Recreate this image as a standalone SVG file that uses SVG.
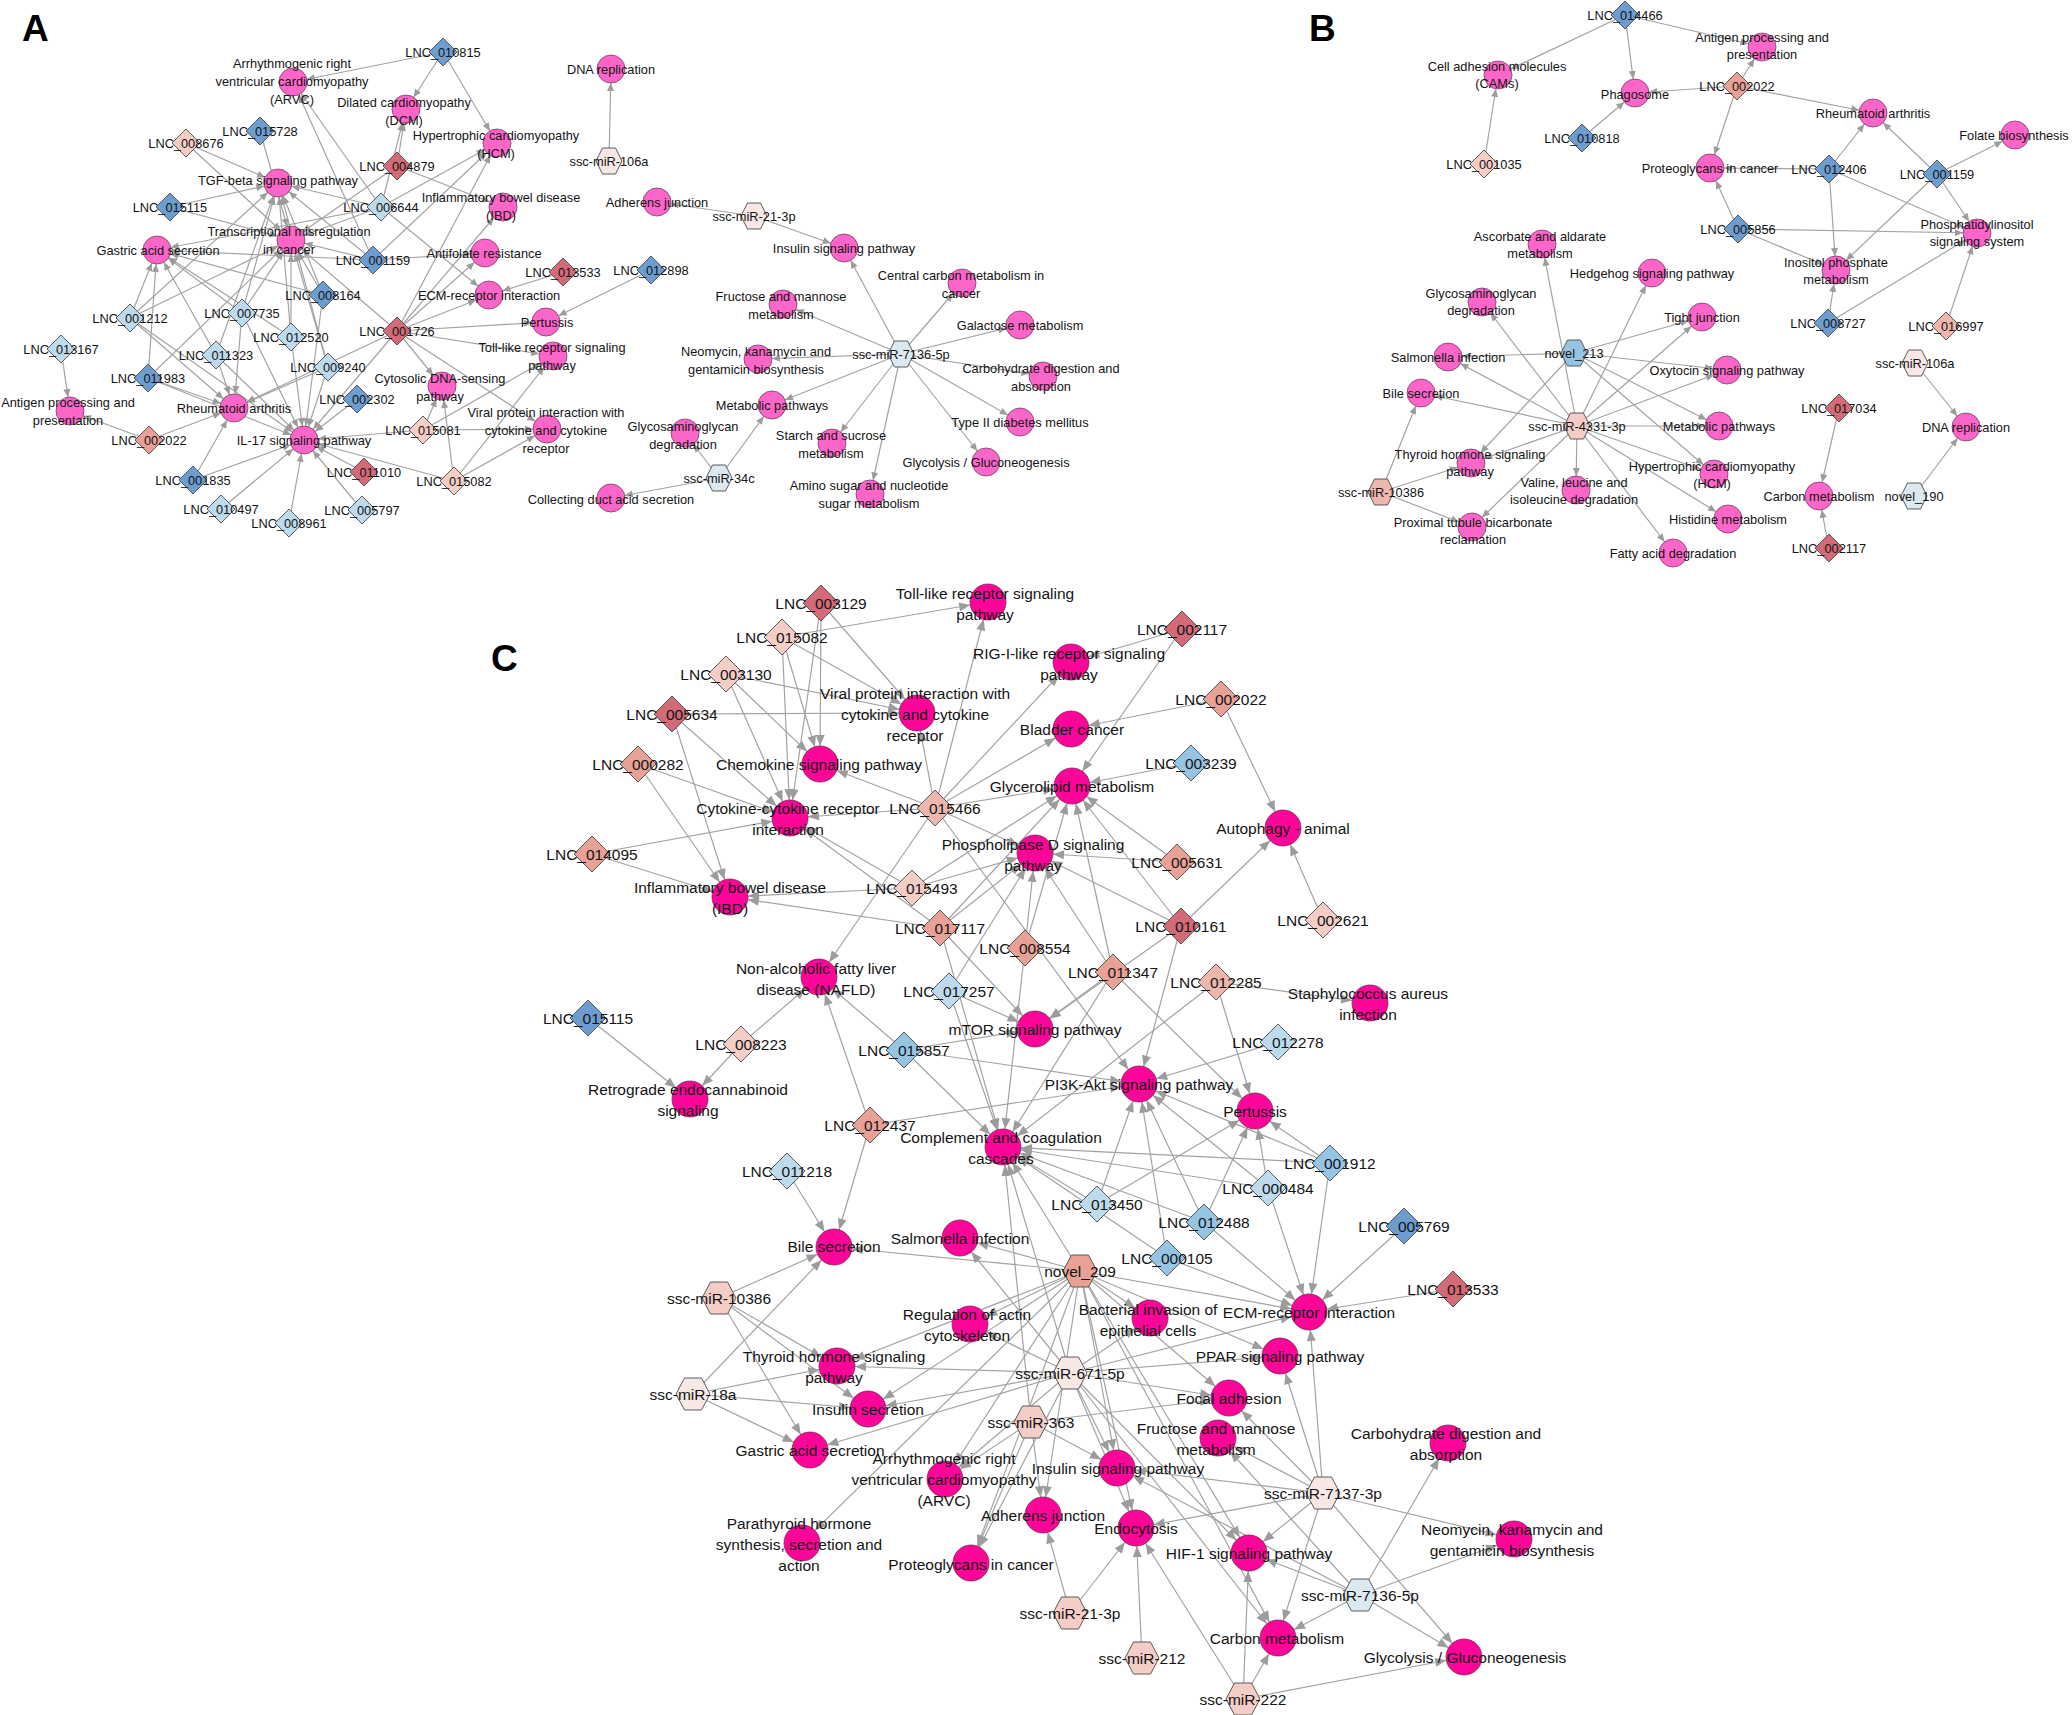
<svg xmlns="http://www.w3.org/2000/svg" xmlns:xlink="http://www.w3.org/1999/xlink" width="2072" height="1715" viewBox="0 0 2072 1715">
<style>
.e{stroke:#a3a3a3;stroke-width:1.2;fill:none}
.ea{marker-end:url(#ma)}
.ec{marker-end:url(#mc)}
.pa{fill:#fd66c9;stroke:#7a3c64;stroke-width:0.8}
.pc{fill:#fc0598;stroke:#7a2a58;stroke-width:0.8}
.s{stroke:#4a4a4a;stroke-width:0.9}
.dr{fill:#d26a78}
.sa{fill:#e8a196}
.sl{fill:#edb7ad}
.lp{fill:#f3cdc6}
.vp{fill:#f7e8e5}
.mb{fill:#6d9dcf}
.bl{fill:#96c5e4}
.lb{fill:#bedbed}
.hb{fill:#dce9f1}
.t{font-family:"Liberation Sans",Arial,sans-serif;font-size:12.8px;fill:#141414;text-anchor:middle;dominant-baseline:central}
.tc{font-size:15.5px}
.pl{font-family:"Liberation Sans",Arial,sans-serif;font-size:37px;font-weight:bold;fill:#000}
</style>
<defs>
<marker id="ma" markerUnits="userSpaceOnUse" markerWidth="10" markerHeight="8" refX="22" refY="3.5" orient="auto" overflow="visible"><path d="M0,0 L8,3.5 L0,7 z" fill="#9c9c9c"/></marker>
<marker id="mc" markerUnits="userSpaceOnUse" markerWidth="12" markerHeight="10" refX="29" refY="4.5" orient="auto" overflow="visible"><path d="M0,0 L11,4.5 L0,9 z" fill="#9c9c9c"/></marker>
<polygon id="dA" points="0,-14 14,0 0,14 -14,0"/>
<polygon id="dC" points="0,-18 18,0 0,18 -18,0"/>
<polygon id="hA" points="-13,0 -6.5,-13 6.5,-13 13,0 6.5,13 -6.5,13"/>
<polygon id="hC" points="-17,0 -8.5,-16 8.5,-16 17,0 8.5,16 -8.5,16"/>
</defs>
<rect width="2072" height="1715" fill="#fff"/>
<text class="pl" x="22" y="41">A</text>
<text class="pl" x="1309" y="41">B</text>
<text class="pl" x="491" y="671">C</text>

<g id="connectors">
<!-- Panel A -->
<g class="e ea">
<line x1="443" y1="52" x2="293" y2="82"/><line x1="443" y1="52" x2="406" y2="109"/><line x1="443" y1="52" x2="497" y2="143"/>
<line x1="186" y1="143" x2="278" y2="183"/><line x1="186" y1="143" x2="291" y2="240"/>
<line x1="260" y1="131" x2="291" y2="240"/>
<line x1="397" y1="166" x2="406" y2="109"/><line x1="397" y1="166" x2="291" y2="240"/><line x1="397" y1="166" x2="503" y2="207"/>
<line x1="170" y1="207" x2="278" y2="183"/><line x1="170" y1="207" x2="291" y2="240"/>
<line x1="381" y1="207" x2="293" y2="82"/><line x1="381" y1="207" x2="406" y2="109"/><line x1="381" y1="207" x2="497" y2="143"/><line x1="381" y1="207" x2="278" y2="183"/><line x1="381" y1="207" x2="157" y2="250"/><line x1="381" y1="207" x2="291" y2="240"/><line x1="381" y1="207" x2="489" y2="295"/>
<line x1="373" y1="260" x2="293" y2="82"/><line x1="373" y1="260" x2="497" y2="143"/><line x1="373" y1="260" x2="278" y2="183"/><line x1="373" y1="260" x2="157" y2="250"/><line x1="373" y1="260" x2="291" y2="240"/><line x1="373" y1="260" x2="485" y2="253"/>
<line x1="130" y1="318" x2="157" y2="250"/><line x1="130" y1="318" x2="278" y2="183"/><line x1="130" y1="318" x2="291" y2="240"/><line x1="130" y1="318" x2="234" y2="408"/><line x1="130" y1="318" x2="304" y2="440"/>
<line x1="242" y1="313" x2="157" y2="250"/><line x1="242" y1="313" x2="278" y2="183"/><line x1="242" y1="313" x2="291" y2="240"/><line x1="242" y1="313" x2="234" y2="408"/><line x1="242" y1="313" x2="304" y2="440"/>
<line x1="323" y1="295" x2="157" y2="250"/><line x1="323" y1="295" x2="278" y2="183"/><line x1="323" y1="295" x2="291" y2="240"/><line x1="323" y1="295" x2="304" y2="440"/>
<line x1="291" y1="337" x2="157" y2="250"/><line x1="291" y1="337" x2="278" y2="183"/><line x1="291" y1="337" x2="291" y2="240"/><line x1="291" y1="337" x2="304" y2="440"/>
<line x1="216" y1="355" x2="157" y2="250"/><line x1="216" y1="355" x2="278" y2="183"/><line x1="216" y1="355" x2="234" y2="408"/><line x1="216" y1="355" x2="304" y2="440"/>
<line x1="148" y1="378" x2="157" y2="250"/><line x1="148" y1="378" x2="291" y2="240"/><line x1="148" y1="378" x2="234" y2="408"/><line x1="148" y1="378" x2="304" y2="440"/>
<line x1="328" y1="367" x2="278" y2="183"/><line x1="328" y1="367" x2="291" y2="240"/><line x1="328" y1="367" x2="234" y2="408"/><line x1="328" y1="367" x2="304" y2="440"/>
<line x1="397" y1="331" x2="497" y2="143"/><line x1="397" y1="331" x2="503" y2="207"/><line x1="397" y1="331" x2="489" y2="295"/><line x1="397" y1="331" x2="546" y2="322"/><line x1="397" y1="331" x2="553" y2="356"/><line x1="397" y1="331" x2="442" y2="386"/><line x1="397" y1="331" x2="547" y2="429"/><line x1="397" y1="331" x2="304" y2="440"/><line x1="397" y1="331" x2="234" y2="408"/><line x1="397" y1="331" x2="291" y2="240"/><line x1="397" y1="331" x2="485" y2="253"/>
<line x1="563" y1="272" x2="489" y2="295"/>
<line x1="651" y1="270" x2="546" y2="322"/>
<line x1="61" y1="349" x2="70" y2="411"/>
<line x1="149" y1="440" x2="70" y2="411"/><line x1="149" y1="440" x2="234" y2="408"/>
<line x1="357" y1="399" x2="304" y2="440"/>
<line x1="423" y1="430" x2="304" y2="440"/><line x1="423" y1="430" x2="442" y2="386"/><line x1="423" y1="430" x2="553" y2="356"/><line x1="423" y1="430" x2="547" y2="429"/>
<line x1="454" y1="481" x2="304" y2="440"/><line x1="454" y1="481" x2="442" y2="386"/><line x1="454" y1="481" x2="553" y2="356"/><line x1="454" y1="481" x2="547" y2="429"/>
<line x1="193" y1="480" x2="234" y2="408"/><line x1="193" y1="480" x2="304" y2="440"/>
<line x1="364" y1="472" x2="304" y2="440"/>
<line x1="221" y1="509" x2="304" y2="440"/>
<line x1="289" y1="523" x2="304" y2="440"/>
<line x1="362" y1="510" x2="304" y2="440"/>
<line x1="609" y1="161" x2="611" y2="69"/>
<line x1="754" y1="216" x2="657" y2="202"/><line x1="754" y1="216" x2="844" y2="248"/>
<line x1="901" y1="354" x2="844" y2="248"/><line x1="901" y1="354" x2="962" y2="283"/><line x1="901" y1="354" x2="783" y2="304"/><line x1="901" y1="354" x2="1020" y2="325"/><line x1="901" y1="354" x2="758" y2="359"/><line x1="901" y1="354" x2="1043" y2="376"/><line x1="901" y1="354" x2="772" y2="405"/><line x1="901" y1="354" x2="832" y2="443"/><line x1="901" y1="354" x2="870" y2="494"/><line x1="901" y1="354" x2="986" y2="462"/><line x1="901" y1="354" x2="1020" y2="422"/>
<line x1="719" y1="478" x2="685" y2="433"/><line x1="719" y1="478" x2="772" y2="405"/><line x1="719" y1="478" x2="611" y2="498"/>
</g>
<!-- Panel B -->
<g class="e ea">
<line x1="1625" y1="15" x2="1498" y2="75"/><line x1="1625" y1="15" x2="1635" y2="93"/><line x1="1625" y1="15" x2="1762" y2="47"/>
<line x1="1737" y1="86" x2="1762" y2="47"/><line x1="1737" y1="86" x2="1635" y2="93"/><line x1="1737" y1="86" x2="1873" y2="113"/><line x1="1737" y1="86" x2="1710" y2="168"/>
<line x1="1582" y1="138" x2="1635" y2="93"/>
<line x1="1484" y1="164" x2="1498" y2="75"/>
<line x1="1829" y1="169" x2="1710" y2="168"/><line x1="1829" y1="169" x2="1873" y2="113"/><line x1="1829" y1="169" x2="1836" y2="270"/><line x1="1829" y1="169" x2="1977" y2="233"/>
<line x1="1937" y1="174" x2="1873" y2="113"/><line x1="1937" y1="174" x2="2015" y2="135"/><line x1="1937" y1="174" x2="1977" y2="233"/><line x1="1937" y1="174" x2="1836" y2="270"/>
<line x1="1738" y1="229" x2="1710" y2="168"/><line x1="1738" y1="229" x2="1977" y2="233"/><line x1="1738" y1="229" x2="1836" y2="270"/>
<line x1="1828" y1="323" x2="1836" y2="270"/><line x1="1828" y1="323" x2="1977" y2="233"/>
<line x1="1946" y1="326" x2="1977" y2="233"/>
<line x1="1915" y1="363" x2="1966" y2="427"/>
<line x1="1914" y1="496" x2="1966" y2="427"/>
<line x1="1839" y1="408" x2="1819" y2="496"/>
<line x1="1829" y1="548" x2="1819" y2="496"/>
<line x1="1577" y1="426" x2="1542" y2="244"/><line x1="1577" y1="426" x2="1652" y2="273"/><line x1="1577" y1="426" x2="1482" y2="302"/><line x1="1577" y1="426" x2="1702" y2="317"/><line x1="1577" y1="426" x2="1448" y2="357"/><line x1="1577" y1="426" x2="1727" y2="370"/><line x1="1577" y1="426" x2="1421" y2="393"/><line x1="1577" y1="426" x2="1719" y2="426"/><line x1="1577" y1="426" x2="1471" y2="463"/><line x1="1577" y1="426" x2="1714" y2="474"/><line x1="1577" y1="426" x2="1576" y2="490"/><line x1="1577" y1="426" x2="1728" y2="519"/><line x1="1577" y1="426" x2="1673" y2="553"/><line x1="1577" y1="426" x2="1472" y2="527"/>
<line x1="1574" y1="353" x2="1702" y2="317"/><line x1="1574" y1="353" x2="1448" y2="357"/><line x1="1574" y1="353" x2="1727" y2="370"/><line x1="1574" y1="353" x2="1719" y2="426"/><line x1="1574" y1="353" x2="1714" y2="474"/><line x1="1574" y1="353" x2="1471" y2="463"/>
<line x1="1381" y1="492" x2="1421" y2="393"/><line x1="1381" y1="492" x2="1471" y2="463"/><line x1="1381" y1="492" x2="1472" y2="527"/>
</g>
<!-- Panel C -->
<g class="e ec">
<line x1="821" y1="603" x2="820" y2="764"/><line x1="821" y1="603" x2="790" y2="818"/><line x1="821" y1="603" x2="917" y2="713"/>
<line x1="782" y1="637" x2="988" y2="602"/><line x1="782" y1="637" x2="820" y2="764"/><line x1="782" y1="637" x2="790" y2="818"/><line x1="782" y1="637" x2="917" y2="713"/>
<line x1="726" y1="674" x2="917" y2="713"/><line x1="726" y1="674" x2="820" y2="764"/><line x1="726" y1="674" x2="790" y2="818"/>
<line x1="672" y1="714" x2="917" y2="713"/><line x1="672" y1="714" x2="790" y2="818"/><line x1="672" y1="714" x2="730" y2="897"/>
<line x1="638" y1="764" x2="790" y2="818"/><line x1="638" y1="764" x2="730" y2="897"/>
<line x1="592" y1="854" x2="790" y2="818"/><line x1="592" y1="854" x2="730" y2="897"/>
<line x1="935" y1="808" x2="917" y2="713"/><line x1="935" y1="808" x2="988" y2="602"/><line x1="935" y1="808" x2="1071" y2="662"/><line x1="935" y1="808" x2="1071" y2="729"/><line x1="935" y1="808" x2="1072" y2="786"/><line x1="935" y1="808" x2="820" y2="764"/><line x1="935" y1="808" x2="790" y2="818"/><line x1="935" y1="808" x2="1035" y2="853"/><line x1="935" y1="808" x2="819" y2="977"/><line x1="935" y1="808" x2="1139" y2="1084"/>
<line x1="912" y1="888" x2="790" y2="818"/><line x1="912" y1="888" x2="730" y2="897"/><line x1="912" y1="888" x2="1035" y2="853"/><line x1="912" y1="888" x2="1072" y2="786"/>
<line x1="940" y1="928" x2="790" y2="818"/><line x1="940" y1="928" x2="730" y2="897"/><line x1="940" y1="928" x2="1035" y2="853"/><line x1="940" y1="928" x2="1072" y2="786"/><line x1="940" y1="928" x2="1035" y2="1029"/><line x1="940" y1="928" x2="1003" y2="1147"/>
<line x1="1025" y1="948" x2="1035" y2="853"/><line x1="1025" y1="948" x2="1072" y2="786"/><line x1="1025" y1="948" x2="1003" y2="1147"/>
<line x1="1182" y1="629" x2="1071" y2="662"/><line x1="1182" y1="629" x2="1072" y2="786"/>
<line x1="1221" y1="699" x2="1071" y2="729"/><line x1="1221" y1="699" x2="1283" y2="828"/>
<line x1="1191" y1="763" x2="1072" y2="786"/>
<line x1="1177" y1="862" x2="1072" y2="786"/><line x1="1177" y1="862" x2="1035" y2="853"/>
<line x1="1181" y1="926" x2="1072" y2="786"/><line x1="1181" y1="926" x2="1035" y2="853"/><line x1="1181" y1="926" x2="1283" y2="828"/><line x1="1181" y1="926" x2="1035" y2="1029"/><line x1="1181" y1="926" x2="1139" y2="1084"/>
<line x1="1323" y1="920" x2="1283" y2="828"/>
<line x1="1113" y1="972" x2="1072" y2="786"/><line x1="1113" y1="972" x2="1035" y2="853"/><line x1="1113" y1="972" x2="1035" y2="1029"/><line x1="1113" y1="972" x2="1255" y2="1111"/><line x1="1113" y1="972" x2="1003" y2="1147"/>
<line x1="1216" y1="982" x2="1370" y2="1003"/><line x1="1216" y1="982" x2="1255" y2="1111"/><line x1="1216" y1="982" x2="1003" y2="1147"/>
<line x1="1278" y1="1042" x2="1139" y2="1084"/>
<line x1="949" y1="991" x2="1035" y2="1029"/><line x1="949" y1="991" x2="1003" y2="1147"/><line x1="949" y1="991" x2="1035" y2="853"/>
<line x1="904" y1="1050" x2="819" y2="977"/><line x1="904" y1="1050" x2="1035" y2="1029"/><line x1="904" y1="1050" x2="1139" y2="1084"/><line x1="904" y1="1050" x2="1003" y2="1147"/>
<line x1="588" y1="1018" x2="690" y2="1099"/>
<line x1="741" y1="1044" x2="690" y2="1099"/><line x1="741" y1="1044" x2="819" y2="977"/>
<line x1="870" y1="1125" x2="819" y2="977"/><line x1="870" y1="1125" x2="834" y2="1247"/><line x1="870" y1="1125" x2="1139" y2="1084"/>
<line x1="787" y1="1171" x2="834" y2="1247"/>
<line x1="1330" y1="1163" x2="1255" y2="1111"/><line x1="1330" y1="1163" x2="1139" y2="1084"/><line x1="1330" y1="1163" x2="1003" y2="1147"/><line x1="1330" y1="1163" x2="1309" y2="1312"/>
<line x1="1268" y1="1188" x2="1139" y2="1084"/><line x1="1268" y1="1188" x2="1255" y2="1111"/><line x1="1268" y1="1188" x2="1003" y2="1147"/><line x1="1268" y1="1188" x2="1309" y2="1312"/>
<line x1="1097" y1="1204" x2="1139" y2="1084"/><line x1="1097" y1="1204" x2="1255" y2="1111"/><line x1="1097" y1="1204" x2="1003" y2="1147"/>
<line x1="1204" y1="1222" x2="1139" y2="1084"/><line x1="1204" y1="1222" x2="1255" y2="1111"/><line x1="1204" y1="1222" x2="1003" y2="1147"/><line x1="1204" y1="1222" x2="1309" y2="1312"/>
<line x1="1167" y1="1258" x2="1139" y2="1084"/><line x1="1167" y1="1258" x2="1309" y2="1312"/><line x1="1167" y1="1258" x2="1003" y2="1147"/>
<line x1="1404" y1="1226" x2="1309" y2="1312"/>
<line x1="1453" y1="1289" x2="1309" y2="1312"/>
<line x1="1080" y1="1271" x2="1309" y2="1312"/><line x1="1080" y1="1271" x2="834" y2="1247"/><line x1="1080" y1="1271" x2="960" y2="1238"/><line x1="1080" y1="1271" x2="1003" y2="1147"/><line x1="1080" y1="1271" x2="1150" y2="1318"/><line x1="1080" y1="1271" x2="1280" y2="1356"/><line x1="1080" y1="1271" x2="1229" y2="1398"/><line x1="1080" y1="1271" x2="970" y2="1324"/><line x1="1080" y1="1271" x2="837" y2="1366"/><line x1="1080" y1="1271" x2="868" y2="1409"/><line x1="1080" y1="1271" x2="945" y2="1479"/><line x1="1080" y1="1271" x2="971" y2="1563"/><line x1="1080" y1="1271" x2="1043" y2="1515"/><line x1="1080" y1="1271" x2="1117" y2="1468"/><line x1="1080" y1="1271" x2="1136" y2="1528"/><line x1="1080" y1="1271" x2="1249" y2="1553"/><line x1="1080" y1="1271" x2="802" y2="1543"/><line x1="1080" y1="1271" x2="1278" y2="1638"/>
<line x1="719" y1="1298" x2="834" y2="1247"/><line x1="719" y1="1298" x2="837" y2="1366"/><line x1="719" y1="1298" x2="868" y2="1409"/><line x1="719" y1="1298" x2="810" y2="1450"/>
<line x1="693" y1="1394" x2="834" y2="1247"/><line x1="693" y1="1394" x2="837" y2="1366"/><line x1="693" y1="1394" x2="868" y2="1409"/><line x1="693" y1="1394" x2="810" y2="1450"/>
<line x1="1070" y1="1373" x2="837" y2="1366"/><line x1="1070" y1="1373" x2="868" y2="1409"/><line x1="1070" y1="1373" x2="810" y2="1450"/><line x1="1070" y1="1373" x2="970" y2="1324"/><line x1="1070" y1="1373" x2="1150" y2="1318"/><line x1="1070" y1="1373" x2="1309" y2="1312"/><line x1="1070" y1="1373" x2="1280" y2="1356"/><line x1="1070" y1="1373" x2="1229" y2="1398"/><line x1="1070" y1="1373" x2="1117" y2="1468"/><line x1="1070" y1="1373" x2="1136" y2="1528"/><line x1="1070" y1="1373" x2="1249" y2="1553"/><line x1="1070" y1="1373" x2="945" y2="1479"/><line x1="1070" y1="1373" x2="1003" y2="1147"/><line x1="1070" y1="1373" x2="960" y2="1238"/><line x1="1070" y1="1373" x2="971" y2="1563"/><line x1="1070" y1="1373" x2="1278" y2="1638"/>
<line x1="1031" y1="1422" x2="971" y2="1563"/><line x1="1031" y1="1422" x2="1043" y2="1515"/><line x1="1031" y1="1422" x2="945" y2="1479"/><line x1="1031" y1="1422" x2="1229" y2="1398"/><line x1="1031" y1="1422" x2="1117" y2="1468"/><line x1="1031" y1="1422" x2="1003" y2="1147"/>
<line x1="1323" y1="1493" x2="1117" y2="1468"/><line x1="1323" y1="1493" x2="1136" y2="1528"/><line x1="1323" y1="1493" x2="1249" y2="1553"/><line x1="1323" y1="1493" x2="1278" y2="1638"/><line x1="1323" y1="1493" x2="1464" y2="1657"/><line x1="1323" y1="1493" x2="1514" y2="1539"/><line x1="1323" y1="1493" x2="1280" y2="1356"/><line x1="1323" y1="1493" x2="1229" y2="1398"/><line x1="1323" y1="1493" x2="1218" y2="1438"/><line x1="1323" y1="1493" x2="1309" y2="1312"/>
<line x1="1360" y1="1595" x2="1448" y2="1443"/><line x1="1360" y1="1595" x2="1514" y2="1539"/><line x1="1360" y1="1595" x2="1464" y2="1657"/><line x1="1360" y1="1595" x2="1278" y2="1638"/><line x1="1360" y1="1595" x2="1249" y2="1553"/><line x1="1360" y1="1595" x2="1218" y2="1438"/><line x1="1360" y1="1595" x2="1117" y2="1468"/>
<line x1="1070" y1="1613" x2="1043" y2="1515"/><line x1="1070" y1="1613" x2="1136" y2="1528"/>
<line x1="1142" y1="1658" x2="1136" y2="1528"/>
<line x1="1243" y1="1699" x2="1278" y2="1638"/><line x1="1243" y1="1699" x2="1249" y2="1553"/><line x1="1243" y1="1699" x2="1464" y2="1657"/><line x1="1243" y1="1699" x2="1136" y2="1528"/>
</g>
</g>

<g id="nodesA">
<g id="a-arvc"><circle class="pa" cx="293" cy="82" r="14"/><text class="t" x="292" y="63"><tspan x="292">Arrhythmogenic right</tspan><tspan x="292" dy="18">ventricular cardiomyopathy</tspan><tspan x="292" dy="18">(ARVC)</tspan></text></g>
<g id="a-dcm"><circle class="pa" cx="406" cy="109" r="14"/><text class="t" x="404" y="102"><tspan x="404">Dilated cardiomyopathy</tspan><tspan x="404" dy="18">(DCM)</tspan></text></g>
<g id="a-hcm"><circle class="pa" cx="497" cy="143" r="14"/><text class="t" x="496" y="135"><tspan x="496">Hypertrophic cardiomyopathy</tspan><tspan x="496" dy="18">(HCM)</tspan></text></g>
<g id="a-tgf"><circle class="pa" cx="278" cy="183" r="14"/><text class="t" x="278" y="180">TGF-beta signaling pathway</text></g>
<g id="a-ibd"><circle class="pa" cx="503" cy="207" r="14"/><text class="t" x="501" y="197"><tspan x="501">Inflammatory bowel disease</tspan><tspan x="501" dy="18">(IBD)</tspan></text></g>
<g id="a-trans"><circle class="pa" cx="291" cy="240" r="14"/><text class="t" x="289" y="231"><tspan x="289">Transcriptional misregulation</tspan><tspan x="289" dy="18">in cancer</tspan></text></g>
<g id="a-gastric"><circle class="pa" cx="157" cy="250" r="14"/><text class="t" x="158" y="250">Gastric acid secretion</text></g>
<g id="a-antifol"><circle class="pa" cx="485" cy="253" r="14"/><text class="t" x="484" y="253">Antifolate resistance</text></g>
<g id="a-ecm"><circle class="pa" cx="489" cy="295" r="14"/><text class="t" x="489" y="295">ECM-receptor interaction</text></g>
<g id="a-pert"><circle class="pa" cx="546" cy="322" r="14"/><text class="t" x="547" y="322">Pertussis</text></g>
<g id="a-toll"><circle class="pa" cx="553" cy="356" r="14"/><text class="t" x="552" y="347"><tspan x="552">Toll-like receptor signaling</tspan><tspan x="552" dy="18">pathway</tspan></text></g>
<g id="a-cyto"><circle class="pa" cx="442" cy="386" r="14"/><text class="t" x="440" y="378"><tspan x="440">Cytosolic DNA-sensing</tspan><tspan x="440" dy="18">pathway</tspan></text></g>
<g id="a-antigen"><circle class="pa" cx="70" cy="411" r="14"/><text class="t" x="68" y="402"><tspan x="68">Antigen processing and</tspan><tspan x="68" dy="18">presentation</tspan></text></g>
<g id="a-rheum"><circle class="pa" cx="234" cy="408" r="14"/><text class="t" x="234" y="408">Rheumatoid arthritis</text></g>
<g id="a-viral"><circle class="pa" cx="547" cy="429" r="14"/><text class="t" x="546" y="412"><tspan x="546">Viral protein interaction with</tspan><tspan x="546" dy="18">cytokine and cytokine</tspan><tspan x="546" dy="18">receptor</tspan></text></g>
<g id="a-il17"><circle class="pa" cx="304" cy="440" r="14"/><text class="t" x="304" y="440">IL-17 signaling pathway</text></g>
<g id="a-collect"><circle class="pa" cx="611" cy="498" r="14"/><text class="t" x="611" y="499">Collecting duct acid secretion</text></g>
<g id="a-dna"><circle class="pa" cx="611" cy="69" r="14"/><text class="t" x="611" y="69">DNA replication</text></g>
<g id="a-adh"><circle class="pa" cx="657" cy="202" r="14"/><text class="t" x="657" y="202">Adherens junction</text></g>
<g id="a-ins"><circle class="pa" cx="844" cy="248" r="14"/><text class="t" x="844" y="248">Insulin signaling pathway</text></g>
<g id="a-ccm"><circle class="pa" cx="962" cy="283" r="14"/><text class="t" x="961" y="275"><tspan x="961">Central carbon metabolism in</tspan><tspan x="961" dy="18">cancer</tspan></text></g>
<g id="a-fru"><circle class="pa" cx="783" cy="304" r="14"/><text class="t" x="781" y="296"><tspan x="781">Fructose and mannose</tspan><tspan x="781" dy="18">metabolism</tspan></text></g>
<g id="a-gal"><circle class="pa" cx="1020" cy="325" r="14"/><text class="t" x="1020" y="325">Galactose metabolism</text></g>
<g id="a-neo"><circle class="pa" cx="758" cy="359" r="14"/><text class="t" x="756" y="351"><tspan x="756">Neomycin, kanamycin and</tspan><tspan x="756" dy="18">gentamicin biosynthesis</tspan></text></g>
<g id="a-carb"><circle class="pa" cx="1043" cy="376" r="14"/><text class="t" x="1041" y="368"><tspan x="1041">Carbohydrate digestion and</tspan><tspan x="1041" dy="18">absorption</tspan></text></g>
<g id="a-met"><circle class="pa" cx="772" cy="405" r="14"/><text class="t" x="772" y="405">Metabolic pathways</text></g>
<g id="a-t2d"><circle class="pa" cx="1020" cy="422" r="14"/><text class="t" x="1020" y="422">Type II diabetes mellitus</text></g>
<g id="a-gag"><circle class="pa" cx="685" cy="433" r="14"/><text class="t" x="683" y="426"><tspan x="683">Glycosaminoglycan</tspan><tspan x="683" dy="18">degradation</tspan></text></g>
<g id="a-starch"><circle class="pa" cx="832" cy="443" r="14"/><text class="t" x="831" y="435"><tspan x="831">Starch and sucrose</tspan><tspan x="831" dy="18">metabolism</tspan></text></g>
<g id="a-glyc"><circle class="pa" cx="986" cy="462" r="14"/><text class="t" x="986" y="462">Glycolysis / Gluconeogenesis</text></g>
<g id="a-amino"><circle class="pa" cx="870" cy="494" r="14"/><text class="t" x="869" y="485"><tspan x="869">Amino sugar and nucleotide</tspan><tspan x="869" dy="18">sugar metabolism</tspan></text></g>

<g id="a-lnc010815"><use href="#dA" x="443" y="52" class="s mb"/><text class="t" x="443" y="52">LNC_010815</text></g>
<g id="a-lnc015728"><use href="#dA" x="260" y="131" class="s mb"/><text class="t" x="260" y="131">LNC_015728</text></g>
<g id="a-lnc008676"><use href="#dA" x="186" y="143" class="s lp"/><text class="t" x="186" y="143">LNC_008676</text></g>
<g id="a-lnc004879"><use href="#dA" x="397" y="166" class="s dr"/><text class="t" x="397" y="166">LNC_004879</text></g>
<g id="a-lnc015115"><use href="#dA" x="170" y="207" class="s mb"/><text class="t" x="170" y="207">LNC_015115</text></g>
<g id="a-lnc006644"><use href="#dA" x="381" y="207" class="s lb"/><text class="t" x="381" y="207">LNC_006644</text></g>
<g id="a-lnc001159"><use href="#dA" x="373" y="260" class="s mb"/><text class="t" x="373" y="260">LNC_001159</text></g>
<g id="a-lnc001212"><use href="#dA" x="130" y="318" class="s lb"/><text class="t" x="130" y="318">LNC_001212</text></g>
<g id="a-lnc007735"><use href="#dA" x="242" y="313" class="s lb"/><text class="t" x="242" y="313">LNC_007735</text></g>
<g id="a-lnc008164"><use href="#dA" x="323" y="295" class="s mb"/><text class="t" x="323" y="295">LNC_008164</text></g>
<g id="a-lnc012520"><use href="#dA" x="291" y="337" class="s lb"/><text class="t" x="291" y="337">LNC_012520</text></g>
<g id="a-lnc001726"><use href="#dA" x="397" y="331" class="s dr"/><text class="t" x="397" y="331">LNC_001726</text></g>
<g id="a-lnc013533"><use href="#dA" x="563" y="272" class="s dr"/><text class="t" x="563" y="272">LNC_013533</text></g>
<g id="a-lnc012898"><use href="#dA" x="651" y="270" class="s mb"/><text class="t" x="651" y="270">LNC_012898</text></g>
<g id="a-lnc013167"><use href="#dA" x="61" y="349" class="s lb"/><text class="t" x="61" y="349">LNC_013167</text></g>
<g id="a-lnc011323"><use href="#dA" x="216" y="355" class="s lb"/><text class="t" x="216" y="355">LNC_011323</text></g>
<g id="a-lnc009240"><use href="#dA" x="328" y="367" class="s lb"/><text class="t" x="328" y="367">LNC_009240</text></g>
<g id="a-lnc011983"><use href="#dA" x="148" y="378" class="s mb"/><text class="t" x="148" y="378">LNC_011983</text></g>
<g id="a-lnc002302"><use href="#dA" x="357" y="399" class="s mb"/><text class="t" x="357" y="399">LNC_002302</text></g>
<g id="a-lnc002022"><use href="#dA" x="149" y="440" class="s sa"/><text class="t" x="149" y="440">LNC_002022</text></g>
<g id="a-lnc015081"><use href="#dA" x="423" y="430" class="s lp"/><text class="t" x="423" y="430">LNC_015081</text></g>
<g id="a-lnc001835"><use href="#dA" x="193" y="480" class="s mb"/><text class="t" x="193" y="480">LNC_001835</text></g>
<g id="a-lnc011010"><use href="#dA" x="364" y="472" class="s dr"/><text class="t" x="364" y="472">LNC_011010</text></g>
<g id="a-lnc015082"><use href="#dA" x="454" y="481" class="s lp"/><text class="t" x="454" y="481">LNC_015082</text></g>
<g id="a-lnc010497"><use href="#dA" x="221" y="509" class="s lb"/><text class="t" x="221" y="509">LNC_010497</text></g>
<g id="a-lnc008961"><use href="#dA" x="289" y="523" class="s lb"/><text class="t" x="289" y="523">LNC_008961</text></g>
<g id="a-lnc005797"><use href="#dA" x="362" y="510" class="s lb"/><text class="t" x="362" y="510">LNC_005797</text></g>
<g id="a-mir106a"><use href="#hA" x="609" y="161" class="s vp"/><text class="t" x="609" y="161">ssc-miR-106a</text></g>
<g id="a-mir21"><use href="#hA" x="754" y="216" class="s vp"/><text class="t" x="754" y="216">ssc-miR-21-3p</text></g>
<g id="a-mir7136"><use href="#hA" x="901" y="354" class="s hb"/><text class="t" x="901" y="354">ssc-miR-7136-5p</text></g>
<g id="a-mir34c"><use href="#hA" x="719" y="478" class="s hb"/><text class="t" x="719" y="478">ssc-miR-34c</text></g>
</g>

<g id="nodesB">
<g id="b-antigen"><circle class="pa" cx="1762" cy="47" r="14"/><text class="t" x="1762" y="37"><tspan x="1762">Antigen processing and</tspan><tspan x="1762" dy="17">presentation</tspan></text></g>
<g id="b-cam"><circle class="pa" cx="1498" cy="75" r="14"/><text class="t" x="1497" y="66"><tspan x="1497">Cell adhesion molecules</tspan><tspan x="1497" dy="17">(CAMs)</tspan></text></g>
<g id="b-phago"><circle class="pa" cx="1635" cy="93" r="14"/><text class="t" x="1635" y="94">Phagosome</text></g>
<g id="b-rheum"><circle class="pa" cx="1873" cy="113" r="14"/><text class="t" x="1873" y="113">Rheumatoid arthritis</text></g>
<g id="b-folate"><circle class="pa" cx="2015" cy="135" r="14"/><text class="t" x="2014" y="135">Folate biosynthesis</text></g>
<g id="b-proteo"><circle class="pa" cx="1710" cy="168" r="14"/><text class="t" x="1710" y="168">Proteoglycans in cancer</text></g>
<g id="b-phos"><circle class="pa" cx="1977" cy="233" r="14"/><text class="t" x="1977" y="224"><tspan x="1977">Phosphatidylinositol</tspan><tspan x="1977" dy="17">signaling system</tspan></text></g>
<g id="b-asc"><circle class="pa" cx="1542" cy="244" r="14"/><text class="t" x="1540" y="236"><tspan x="1540">Ascorbate and aldarate</tspan><tspan x="1540" dy="17">metabolism</tspan></text></g>
<g id="b-inos"><circle class="pa" cx="1836" cy="270" r="14"/><text class="t" x="1836" y="262"><tspan x="1836">Inositol phosphate</tspan><tspan x="1836" dy="17">metabolism</tspan></text></g>
<g id="b-hedge"><circle class="pa" cx="1652" cy="273" r="14"/><text class="t" x="1652" y="273">Hedgehog signaling pathway</text></g>
<g id="b-gag"><circle class="pa" cx="1482" cy="302" r="14"/><text class="t" x="1481" y="293"><tspan x="1481">Glycosaminoglycan</tspan><tspan x="1481" dy="17">degradation</tspan></text></g>
<g id="b-tight"><circle class="pa" cx="1702" cy="317" r="14"/><text class="t" x="1702" y="317">Tight junction</text></g>
<g id="b-salm"><circle class="pa" cx="1448" cy="357" r="14"/><text class="t" x="1448" y="357">Salmonella infection</text></g>
<g id="b-oxy"><circle class="pa" cx="1727" cy="370" r="14"/><text class="t" x="1727" y="370">Oxytocin signaling pathway</text></g>
<g id="b-bile"><circle class="pa" cx="1421" cy="393" r="14"/><text class="t" x="1421" y="393">Bile secretion</text></g>
<g id="b-met"><circle class="pa" cx="1719" cy="426" r="14"/><text class="t" x="1719" y="426">Metabolic pathways</text></g>
<g id="b-dna"><circle class="pa" cx="1966" cy="427" r="14"/><text class="t" x="1966" y="427">DNA replication</text></g>
<g id="b-thy"><circle class="pa" cx="1471" cy="463" r="14"/><text class="t" x="1470" y="454"><tspan x="1470">Thyroid hormone signaling</tspan><tspan x="1470" dy="17">pathway</tspan></text></g>
<g id="b-hcm"><circle class="pa" cx="1714" cy="474" r="14"/><text class="t" x="1712" y="466"><tspan x="1712">Hypertrophic cardiomyopathy</tspan><tspan x="1712" dy="17">(HCM)</tspan></text></g>
<g id="b-val"><circle class="pa" cx="1576" cy="490" r="14"/><text class="t" x="1574" y="482"><tspan x="1574">Valine, leucine and</tspan><tspan x="1574" dy="17">isoleucine degradation</tspan></text></g>
<g id="b-carbon"><circle class="pa" cx="1819" cy="496" r="14"/><text class="t" x="1819" y="496">Carbon metabolism</text></g>
<g id="b-hist"><circle class="pa" cx="1728" cy="519" r="14"/><text class="t" x="1728" y="519">Histidine metabolism</text></g>
<g id="b-prox"><circle class="pa" cx="1472" cy="527" r="14"/><text class="t" x="1473" y="522"><tspan x="1473">Proximal tubule bicarbonate</tspan><tspan x="1473" dy="17">reclamation</tspan></text></g>
<g id="b-fatty"><circle class="pa" cx="1673" cy="553" r="14"/><text class="t" x="1673" y="553">Fatty acid degradation</text></g>
<g id="b-lnc014466"><use href="#dA" x="1625" y="15" class="s mb"/><text class="t" x="1625" y="15">LNC_014466</text></g>
<g id="b-lnc002022"><use href="#dA" x="1737" y="86" class="s sa"/><text class="t" x="1737" y="86">LNC_002022</text></g>
<g id="b-lnc010818"><use href="#dA" x="1582" y="138" class="s mb"/><text class="t" x="1582" y="138">LNC_010818</text></g>
<g id="b-lnc001035"><use href="#dA" x="1484" y="164" class="s lp"/><text class="t" x="1484" y="164">LNC_001035</text></g>
<g id="b-lnc012406"><use href="#dA" x="1829" y="169" class="s mb"/><text class="t" x="1829" y="169">LNC_012406</text></g>
<g id="b-lnc001159"><use href="#dA" x="1937" y="174" class="s mb"/><text class="t" x="1937" y="174">LNC_001159</text></g>
<g id="b-lnc005856"><use href="#dA" x="1738" y="229" class="s mb"/><text class="t" x="1738" y="229">LNC_005856</text></g>
<g id="b-lnc008727"><use href="#dA" x="1828" y="323" class="s mb"/><text class="t" x="1828" y="323">LNC_008727</text></g>
<g id="b-lnc016997"><use href="#dA" x="1946" y="326" class="s sl"/><text class="t" x="1946" y="326">LNC_016997</text></g>
<g id="b-lnc017034"><use href="#dA" x="1839" y="408" class="s dr"/><text class="t" x="1839" y="408">LNC_017034</text></g>
<g id="b-lnc002117"><use href="#dA" x="1829" y="548" class="s dr"/><text class="t" x="1829" y="548">LNC_002117</text></g>
<g id="b-novel213"><use href="#hA" x="1574" y="353" class="s bl"/><text class="t" x="1574" y="353">novel_213</text></g>
<g id="b-mir106a"><use href="#hA" x="1915" y="363" class="s vp"/><text class="t" x="1915" y="363">ssc-miR-106a</text></g>
<g id="b-mir4331"><use href="#hA" x="1577" y="426" class="s lp"/><text class="t" x="1577" y="426">ssc-miR-4331-3p</text></g>
<g id="b-mir10386"><use href="#hA" x="1381" y="492" class="s sl"/><text class="t" x="1381" y="492">ssc-miR-10386</text></g>
<g id="b-novel190"><use href="#hA" x="1914" y="496" class="s hb"/><text class="t" x="1914" y="496">novel_190</text></g>
</g>

<g id="nodesC">
<g id="c-toll"><circle class="pc" cx="988" cy="602" r="18"/><text class="t tc" x="985" y="593"><tspan x="985">Toll-like receptor signaling</tspan><tspan x="985" dy="21">pathway</tspan></text></g>
<g id="c-rig"><circle class="pc" cx="1071" cy="662" r="18"/><text class="t tc" x="1069" y="653"><tspan x="1069">RIG-I-like receptor signaling</tspan><tspan x="1069" dy="21">pathway</tspan></text></g>
<g id="c-viral"><circle class="pc" cx="917" cy="713" r="18"/><text class="t tc" x="915" y="693"><tspan x="915">Viral protein interaction with</tspan><tspan x="915" dy="21">cytokine and cytokine</tspan><tspan x="915" dy="21">receptor</tspan></text></g>
<g id="c-bladder"><circle class="pc" cx="1071" cy="729" r="18"/><text class="t tc" x="1072" y="729">Bladder cancer</text></g>
<g id="c-chemo"><circle class="pc" cx="820" cy="764" r="18"/><text class="t tc" x="819" y="764">Chemokine signaling pathway</text></g>
<g id="c-glycero"><circle class="pc" cx="1072" cy="786" r="18"/><text class="t tc" x="1072" y="786">Glycerolipid metabolism</text></g>
<g id="c-cyto"><circle class="pc" cx="790" cy="818" r="18"/><text class="t tc" x="788" y="808"><tspan x="788">Cytokine-cytokine receptor</tspan><tspan x="788" dy="21">interaction</tspan></text></g>
<g id="c-auto"><circle class="pc" cx="1283" cy="828" r="18"/><text class="t tc" x="1283" y="828">Autophagy - animal</text></g>
<g id="c-phospho"><circle class="pc" cx="1035" cy="853" r="18"/><text class="t tc" x="1033" y="844"><tspan x="1033">Phospholipase D signaling</tspan><tspan x="1033" dy="21">pathway</tspan></text></g>
<g id="c-ibd"><circle class="pc" cx="730" cy="897" r="18"/><text class="t tc" x="730" y="887"><tspan x="730">Inflammatory bowel disease</tspan><tspan x="730" dy="21">(IBD)</tspan></text></g>
<g id="c-nafld"><circle class="pc" cx="819" cy="977" r="18"/><text class="t tc" x="816" y="968"><tspan x="816">Non-alcoholic fatty liver</tspan><tspan x="816" dy="21">disease (NAFLD)</tspan></text></g>
<g id="c-staph"><circle class="pc" cx="1370" cy="1003" r="18"/><text class="t tc" x="1368" y="993"><tspan x="1368">Staphylococcus aureus</tspan><tspan x="1368" dy="21">infection</tspan></text></g>
<g id="c-mtor"><circle class="pc" cx="1035" cy="1029" r="18"/><text class="t tc" x="1035" y="1029">mTOR signaling pathway</text></g>
<g id="c-pi3k"><circle class="pc" cx="1139" cy="1084" r="18"/><text class="t tc" x="1139" y="1084">PI3K-Akt signaling pathway</text></g>
<g id="c-retro"><circle class="pc" cx="690" cy="1099" r="18"/><text class="t tc" x="688" y="1089"><tspan x="688">Retrograde endocannabinoid</tspan><tspan x="688" dy="21">signaling</tspan></text></g>
<g id="c-pert"><circle class="pc" cx="1255" cy="1111" r="18"/><text class="t tc" x="1255" y="1111">Pertussis</text></g>
<g id="c-compl"><circle class="pc" cx="1003" cy="1147" r="18"/><text class="t tc" x="1001" y="1137"><tspan x="1001">Complement and coagulation</tspan><tspan x="1001" dy="21">cascades</tspan></text></g>
<g id="c-salm"><circle class="pc" cx="960" cy="1238" r="18"/><text class="t tc" x="960" y="1238">Salmonella infection</text></g>
<g id="c-bile"><circle class="pc" cx="834" cy="1247" r="18"/><text class="t tc" x="834" y="1246">Bile secretion</text></g>
<g id="c-ecm"><circle class="pc" cx="1309" cy="1312" r="18"/><text class="t tc" x="1309" y="1312">ECM-receptor interaction</text></g>
<g id="c-bact"><circle class="pc" cx="1150" cy="1318" r="18"/><text class="t tc" x="1148" y="1309"><tspan x="1148">Bacterial invasion of</tspan><tspan x="1148" dy="21">epithelial cells</tspan></text></g>
<g id="c-actin"><circle class="pc" cx="970" cy="1324" r="18"/><text class="t tc" x="967" y="1314"><tspan x="967">Regulation of actin</tspan><tspan x="967" dy="21">cytoskeleton</tspan></text></g>
<g id="c-ppar"><circle class="pc" cx="1280" cy="1356" r="18"/><text class="t tc" x="1280" y="1356">PPAR signaling pathway</text></g>
<g id="c-thy"><circle class="pc" cx="837" cy="1366" r="18"/><text class="t tc" x="834" y="1356"><tspan x="834">Thyroid hormone signaling</tspan><tspan x="834" dy="21">pathway</tspan></text></g>
<g id="c-focal"><circle class="pc" cx="1229" cy="1398" r="18"/><text class="t tc" x="1229" y="1398">Focal adhesion</text></g>
<g id="c-inssec"><circle class="pc" cx="868" cy="1409" r="18"/><text class="t tc" x="868" y="1409">Insulin secretion</text></g>
<g id="c-fru"><circle class="pc" cx="1218" cy="1438" r="18"/><text class="t tc" x="1216" y="1428"><tspan x="1216">Fructose and mannose</tspan><tspan x="1216" dy="21">metabolism</tspan></text></g>
<g id="c-carbo"><circle class="pc" cx="1448" cy="1443" r="18"/><text class="t tc" x="1446" y="1433"><tspan x="1446">Carbohydrate digestion and</tspan><tspan x="1446" dy="21">absorption</tspan></text></g>
<g id="c-gastric"><circle class="pc" cx="810" cy="1450" r="18"/><text class="t tc" x="810" y="1450">Gastric acid secretion</text></g>
<g id="c-inssig"><circle class="pc" cx="1117" cy="1468" r="18"/><text class="t tc" x="1118" y="1468">Insulin signaling pathway</text></g>
<g id="c-arvc"><circle class="pc" cx="945" cy="1479" r="18"/><text class="t tc" x="944" y="1458"><tspan x="944">Arrhythmogenic right</tspan><tspan x="944" dy="21">ventricular cardiomyopathy</tspan><tspan x="944" dy="21">(ARVC)</tspan></text></g>
<g id="c-adh"><circle class="pc" cx="1043" cy="1515" r="18"/><text class="t tc" x="1043" y="1515">Adherens junction</text></g>
<g id="c-endo"><circle class="pc" cx="1136" cy="1528" r="18"/><text class="t tc" x="1136" y="1528">Endocytosis</text></g>
<g id="c-neo"><circle class="pc" cx="1514" cy="1539" r="18"/><text class="t tc" x="1512" y="1529"><tspan x="1512">Neomycin, kanamycin and</tspan><tspan x="1512" dy="21">gentamicin biosynthesis</tspan></text></g>
<g id="c-para"><circle class="pc" cx="802" cy="1543" r="18"/><text class="t tc" x="799" y="1523"><tspan x="799">Parathyroid hormone</tspan><tspan x="799" dy="21">synthesis, secretion and</tspan><tspan x="799" dy="21">action</tspan></text></g>
<g id="c-hif"><circle class="pc" cx="1249" cy="1553" r="18"/><text class="t tc" x="1249" y="1553">HIF-1 signaling pathway</text></g>
<g id="c-proteo"><circle class="pc" cx="971" cy="1563" r="18"/><text class="t tc" x="971" y="1564">Proteoglycans in cancer</text></g>
<g id="c-carbon"><circle class="pc" cx="1278" cy="1638" r="18"/><text class="t tc" x="1277" y="1638">Carbon metabolism</text></g>
<g id="c-glyc"><circle class="pc" cx="1464" cy="1657" r="18"/><text class="t tc" x="1465" y="1657">Glycolysis / Gluconeogenesis</text></g>

<g id="c-lnc003129"><use href="#dC" x="821" y="603" class="s dr"/><text class="t tc" x="821" y="603">LNC_003129</text></g>
<g id="c-lnc015082"><use href="#dC" x="782" y="637" class="s lp"/><text class="t tc" x="782" y="637">LNC_015082</text></g>
<g id="c-lnc003130"><use href="#dC" x="726" y="674" class="s lp"/><text class="t tc" x="726" y="674">LNC_003130</text></g>
<g id="c-lnc005634"><use href="#dC" x="672" y="714" class="s dr"/><text class="t tc" x="672" y="714">LNC_005634</text></g>
<g id="c-lnc002117"><use href="#dC" x="1182" y="629" class="s dr"/><text class="t tc" x="1182" y="629">LNC_002117</text></g>
<g id="c-lnc002022"><use href="#dC" x="1221" y="699" class="s sa"/><text class="t tc" x="1221" y="699">LNC_002022</text></g>
<g id="c-lnc003239"><use href="#dC" x="1191" y="763" class="s bl"/><text class="t tc" x="1191" y="763">LNC_003239</text></g>
<g id="c-lnc000282"><use href="#dC" x="638" y="764" class="s sa"/><text class="t tc" x="638" y="764">LNC_000282</text></g>
<g id="c-lnc015466"><use href="#dC" x="935" y="808" class="s sl"/><text class="t tc" x="935" y="808">LNC_015466</text></g>
<g id="c-lnc014095"><use href="#dC" x="592" y="854" class="s sa"/><text class="t tc" x="592" y="854">LNC_014095</text></g>
<g id="c-lnc005631"><use href="#dC" x="1177" y="862" class="s sa"/><text class="t tc" x="1177" y="862">LNC_005631</text></g>
<g id="c-lnc015493"><use href="#dC" x="912" y="888" class="s lp"/><text class="t tc" x="912" y="888">LNC_015493</text></g>
<g id="c-lnc017117"><use href="#dC" x="940" y="928" class="s sa"/><text class="t tc" x="940" y="928">LNC_017117</text></g>
<g id="c-lnc010161"><use href="#dC" x="1181" y="926" class="s dr"/><text class="t tc" x="1181" y="926">LNC_010161</text></g>
<g id="c-lnc002621"><use href="#dC" x="1323" y="920" class="s lp"/><text class="t tc" x="1323" y="920">LNC_002621</text></g>
<g id="c-lnc008554"><use href="#dC" x="1025" y="948" class="s sa"/><text class="t tc" x="1025" y="948">LNC_008554</text></g>
<g id="c-lnc011347"><use href="#dC" x="1113" y="972" class="s sa"/><text class="t tc" x="1113" y="972">LNC_011347</text></g>
<g id="c-lnc012285"><use href="#dC" x="1216" y="982" class="s sl"/><text class="t tc" x="1216" y="982">LNC_012285</text></g>
<g id="c-lnc017257"><use href="#dC" x="949" y="991" class="s lb"/><text class="t tc" x="949" y="991">LNC_017257</text></g>
<g id="c-lnc015115"><use href="#dC" x="588" y="1018" class="s mb"/><text class="t tc" x="588" y="1018">LNC_015115</text></g>
<g id="c-lnc008223"><use href="#dC" x="741" y="1044" class="s lp"/><text class="t tc" x="741" y="1044">LNC_008223</text></g>
<g id="c-lnc015857"><use href="#dC" x="904" y="1050" class="s bl"/><text class="t tc" x="904" y="1050">LNC_015857</text></g>
<g id="c-lnc012278"><use href="#dC" x="1278" y="1042" class="s lb"/><text class="t tc" x="1278" y="1042">LNC_012278</text></g>
<g id="c-lnc012437"><use href="#dC" x="870" y="1125" class="s sa"/><text class="t tc" x="870" y="1125">LNC_012437</text></g>
<g id="c-lnc001912"><use href="#dC" x="1330" y="1163" class="s bl"/><text class="t tc" x="1330" y="1163">LNC_001912</text></g>
<g id="c-lnc011218"><use href="#dC" x="787" y="1171" class="s lb"/><text class="t tc" x="787" y="1171">LNC_011218</text></g>
<g id="c-lnc000484"><use href="#dC" x="1268" y="1188" class="s lb"/><text class="t tc" x="1268" y="1188">LNC_000484</text></g>
<g id="c-lnc013450"><use href="#dC" x="1097" y="1204" class="s lb"/><text class="t tc" x="1097" y="1204">LNC_013450</text></g>
<g id="c-lnc012488"><use href="#dC" x="1204" y="1222" class="s bl"/><text class="t tc" x="1204" y="1222">LNC_012488</text></g>
<g id="c-lnc005769"><use href="#dC" x="1404" y="1226" class="s mb"/><text class="t tc" x="1404" y="1226">LNC_005769</text></g>
<g id="c-lnc000105"><use href="#dC" x="1167" y="1258" class="s bl"/><text class="t tc" x="1167" y="1258">LNC_000105</text></g>
<g id="c-lnc013533"><use href="#dC" x="1453" y="1289" class="s dr"/><text class="t tc" x="1453" y="1289">LNC_013533</text></g>
<g id="c-novel209"><use href="#hC" x="1080" y="1271" class="s sa"/><text class="t tc" x="1080" y="1271">novel_209</text></g>
<g id="c-mir10386"><use href="#hC" x="719" y="1298" class="s lp"/><text class="t tc" x="719" y="1298">ssc-miR-10386</text></g>
<g id="c-mir671"><use href="#hC" x="1070" y="1373" class="s vp"/><text class="t tc" x="1070" y="1373">ssc-miR-671-5p</text></g>
<g id="c-mir18a"><use href="#hC" x="693" y="1394" class="s vp"/><text class="t tc" x="693" y="1394">ssc-miR-18a</text></g>
<g id="c-mir363"><use href="#hC" x="1031" y="1422" class="s lp"/><text class="t tc" x="1031" y="1422">ssc-miR-363</text></g>
<g id="c-mir7137"><use href="#hC" x="1323" y="1493" class="s vp"/><text class="t tc" x="1323" y="1493">ssc-miR-7137-3p</text></g>
<g id="c-mir7136"><use href="#hC" x="1360" y="1595" class="s hb"/><text class="t tc" x="1360" y="1595">ssc-miR-7136-5p</text></g>
<g id="c-mir21"><use href="#hC" x="1070" y="1613" class="s lp"/><text class="t tc" x="1070" y="1613">ssc-miR-21-3p</text></g>
<g id="c-mir212"><use href="#hC" x="1142" y="1658" class="s lp"/><text class="t tc" x="1142" y="1658">ssc-miR-212</text></g>
<g id="c-mir222"><use href="#hC" x="1243" y="1699" class="s lp"/><text class="t tc" x="1243" y="1699">ssc-miR-222</text></g>
</g>
</svg>
